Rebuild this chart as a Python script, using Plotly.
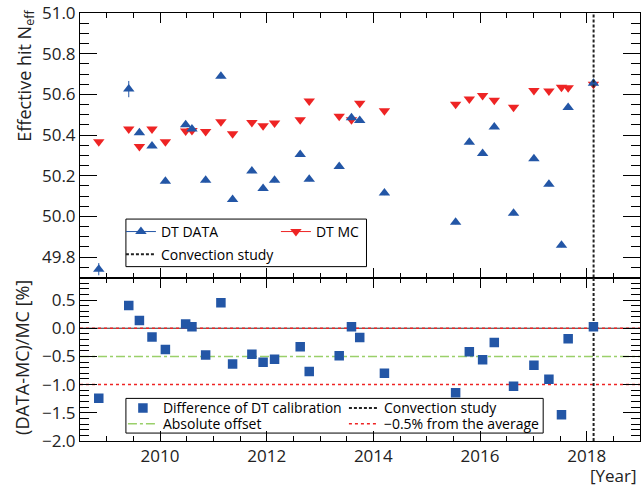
import plotly.graph_objects as go
from plotly.subplots import make_subplots

# ---------------- data ----------------
years = [2008.852, 2009.414, 2009.614, 2009.850, 2010.101, 2010.481, 2010.599, 2010.856,
         2011.142, 2011.361, 2011.723, 2011.933, 2012.148, 2012.629, 2012.798, 2013.360,
         2013.590, 2013.745, 2014.208, 2015.543, 2015.800, 2016.049, 2016.268, 2016.629,
         2017.011, 2017.292, 2017.528, 2017.653, 2018.127]
dt_data = [49.741, 50.626, 50.412, 50.346, 50.173, 50.451, 50.430, 50.178,
           50.689, 50.083, 50.223, 50.138, 50.178, 50.305, 50.183, 50.246,
           50.485, 50.472, 50.115, 49.972, 50.365, 50.310, 50.440, 50.016,
           50.284, 50.158, 49.859, 50.535, 50.655]
dt_data_err = [0.03, 0.04, 0.01, 0.01, 0.01, 0.01, 0.01, 0.01,
               0.01, 0.01, 0.01, 0.01, 0.01, 0.01, 0.01, 0.01,
               0.01, 0.01, 0.01, 0.01, 0.01, 0.01, 0.01, 0.01,
               0.01, 0.01, 0.01, 0.01, 0.01]
dt_mc = [50.367, 50.430, 50.344, 50.430, 50.367, 50.420, 50.422, 50.418,
         50.466, 50.406, 50.462, 50.446, 50.459, 50.475, 50.567, 50.493,
         50.475, 50.556, 50.519, 50.551, 50.577, 50.595, 50.571, 50.537,
         50.619, 50.617, 50.635, 50.632, 50.650]
diff_pct = [-1.240, 0.403, 0.138, -0.155, -0.375, 0.074, 0.027, -0.474,
            0.451, -0.633, -0.463, -0.604, -0.551, -0.327, -0.769, -0.486,
            0.027, -0.163, -0.799, -1.145, -0.415, -0.557, -0.251, -1.028,
            -0.657, -0.905, -1.534, -0.186, 0.027]
diff_err = [0.06, 0.07, 0.02, 0.02, 0.02, 0.02, 0.02, 0.02,
            0.02, 0.02, 0.02, 0.02, 0.02, 0.02, 0.02, 0.02,
            0.02, 0.02, 0.02, 0.02, 0.02, 0.02, 0.02, 0.02,
            0.02, 0.02, 0.02, 0.02, 0.02]
convection_year = 2018.13
absolute_offset = -0.5
band_levels = [0.0, -1.0]
x_range = [2008.5, 2019.0]
y_top_range = [49.7, 51.0]
y_bot_range = [-2.0, 0.9]
y_top_ticks = [49.8, 50.0, 50.2, 50.4, 50.6, 50.8, 51.0]
y_bot_ticks = [0.5, 0.0, -0.5, -1.0, -1.5, -2.0]

BLUE = "#2356a6"
RED = "#ee2424"
GREEN = "#9ad06a"
FONT = "Open Sans"

fig = make_subplots(rows=2, cols=1, shared_xaxes=True, vertical_spacing=0,
                    row_heights=[0.618, 0.382])

# ---------- top panel ----------
fig.add_trace(go.Scatter(x=years, y=dt_mc, mode="markers",
                         marker=dict(symbol="triangle-down", size=10, color=RED),
                         showlegend=False), row=1, col=1)
fig.add_trace(go.Scatter(x=years, y=dt_data, mode="markers",
                         marker=dict(symbol="triangle-up", size=10, color=BLUE),
                         error_y=dict(type="data", array=dt_data_err, color=BLUE,
                                      thickness=1, width=0),
                         showlegend=False), row=1, col=1)
fig.add_trace(go.Scatter(x=[convection_year, convection_year], y=y_top_range,
                         mode="lines", line=dict(color="#222222", width=2, dash="3px,2px"),
                         showlegend=False), row=1, col=1)

# ---------- bottom panel ----------
fig.add_trace(go.Scatter(x=x_range, y=[0, 0], mode="lines",
                         line=dict(color="#333333", width=1), showlegend=False),
              row=2, col=1)
for lv in band_levels:
    fig.add_trace(go.Scatter(x=x_range, y=[lv, lv], mode="lines",
                             line=dict(color=RED, width=1.5, dash="dot"),
                             showlegend=False), row=2, col=1)
fig.add_trace(go.Scatter(x=x_range, y=[absolute_offset, absolute_offset], mode="lines",
                         line=dict(color=GREEN, width=1.5, dash="dashdot"),
                         showlegend=False), row=2, col=1)
fig.add_trace(go.Scatter(x=[convection_year, convection_year], y=y_bot_range,
                         mode="lines", line=dict(color="#222222", width=2, dash="3px,2px"),
                         showlegend=False), row=2, col=1)
fig.add_trace(go.Scatter(x=years, y=diff_pct, mode="markers",
                         marker=dict(symbol="square", size=9.5, color=BLUE),
                         error_y=dict(type="data", array=diff_err, color=BLUE,
                                      thickness=1, width=0),
                         showlegend=False), row=2, col=1)

# ---------- legend entries ----------
def leg(name, legend, **kw):
    fig.add_trace(go.Scatter(x=[None], y=[None], name=name, legend=legend, **kw))

leg("DT DATA", "legend", mode="lines+markers",
    line=dict(color=BLUE, width=1), marker=dict(symbol="triangle-up", size=10, color=BLUE))
leg("DT MC", "legend", mode="lines+markers",
    line=dict(color=RED, width=1), marker=dict(symbol="triangle-down", size=10, color=RED))
leg("Convection study", "legend2", mode="lines",
    line=dict(color="#222222", width=2, dash="3px,2px"))
leg("Difference of DT calibration", "legend3", mode="markers",
    marker=dict(symbol="square", size=9.5, color=BLUE))
leg("Convection study", "legend3", mode="lines",
    line=dict(color="#222222", width=2, dash="3px,2px"))
leg("Absolute offset", "legend4", mode="lines",
    line=dict(color=GREEN, width=1.5, dash="dashdot"))
leg("\u22120.5% from the average", "legend4", mode="lines",
    line=dict(color=RED, width=1.5, dash="dot"))

W, H = 642, 486
ML, MR, MT, MB = 80, 1, 9, 45
PW, PH = W - ML - MR, H - MT - MB

def px(x):
    return (x - ML) / PW

def py(y):
    return (H - MB - y) / PH

legfont = dict(family=FONT, size=14, color="black")
common_leg = dict(orientation="h", bgcolor="rgba(0,0,0,0)", borderwidth=0,
                  font=legfont, xanchor="left", yanchor="middle",
                  itemclick=False, itemdoubleclick=False)
fig.update_layout(
    legend=dict(x=px(121), y=py(230), entrywidth=110, **common_leg),
    legend2=dict(x=px(121), y=py(253), **common_leg),
    legend3=dict(x=px(123), y=py(408), entrywidth=176, **common_leg),
    legend4=dict(x=px(123), y=py(424), entrywidth=176, **common_leg),
)

# legend frames
fig.add_shape(type="rect", xref="paper", yref="paper",
              x0=px(126), x1=px(367), y0=py(265), y1=py(217),
              line=dict(color="black", width=1), fillcolor="rgba(0,0,0,0)")
fig.add_shape(type="rect", xref="paper", yref="paper",
              x0=px(126), x1=px(544), y0=py(433), y1=py(398),
              line=dict(color="black", width=1), fillcolor="rgba(0,0,0,0)")

# ---------- axes ----------
tickfont = dict(family=FONT, size=17, color="#222222")
xcommon = dict(range=x_range, showline=True, linecolor="black", linewidth=1,
               mirror="allticks", ticks="inside", ticklen=10, tickcolor="black",
               tick0=2010, dtick=2, showgrid=False, zeroline=False,
               minor=dict(ticks="inside", ticklen=5, dtick=0.5, tickcolor="black",
                          showgrid=False),
               tickfont=tickfont)
fig.update_xaxes(**xcommon, showticklabels=False, row=1, col=1)
fig.update_xaxes(**xcommon, showticklabels=True, ticklabeloverflow="allow", row=2, col=1)

ycommon = dict(showline=True, linecolor="black", linewidth=1, mirror="allticks",
               ticks="inside", ticklen=17, tickcolor="black", showgrid=False,
               zeroline=False, tickfont=tickfont, ticklabeloverflow="allow")
fig.update_yaxes(**ycommon, range=y_top_range, tickmode="array",
                 tickvals=y_top_ticks, ticktext=[f"{v:.1f}" for v in y_top_ticks],
                 minor=dict(ticks="inside", ticklen=9, dtick=0.05, tickcolor="black",
                            showgrid=False),
                 row=1, col=1)
fig.update_yaxes(**ycommon, range=y_bot_range, tickmode="array",
                 tickvals=y_bot_ticks,
                 ticktext=[f"{v:.1f}".replace("-", "\u2212") for v in y_bot_ticks],
                 minor=dict(ticks="inside", ticklen=9, dtick=0.1, tickcolor="black",
                            showgrid=False),
                 row=2, col=1)

# axis titles / labels
titlefont = dict(family=FONT, size=18, color="#222222")
fig.add_annotation(text="Effective hit N<sub>eff</sub>", xref="paper", yref="paper",
                   x=px(25), y=py(3), xanchor="center", yanchor="top",
                   textangle=-90, showarrow=False, font=titlefont)
fig.add_annotation(text="(DATA-MC)/MC [%]", xref="paper", yref="paper",
                   x=px(22), y=py(357), xanchor="center", yanchor="middle",
                   textangle=-90, showarrow=False, font=titlefont)
fig.add_annotation(text="[Year]", xref="paper", yref="paper",
                   x=px(640), y=py(476), xanchor="right", yanchor="middle",
                   showarrow=False, font=dict(family=FONT, size=17, color="#222222"))

fig.update_layout(width=W, height=H, margin=dict(l=ML, r=MR, t=MT, b=MB),
                  paper_bgcolor="white", plot_bgcolor="white",
                  font=dict(family=FONT, color="#222222"))

fig.write_html("out.html")
